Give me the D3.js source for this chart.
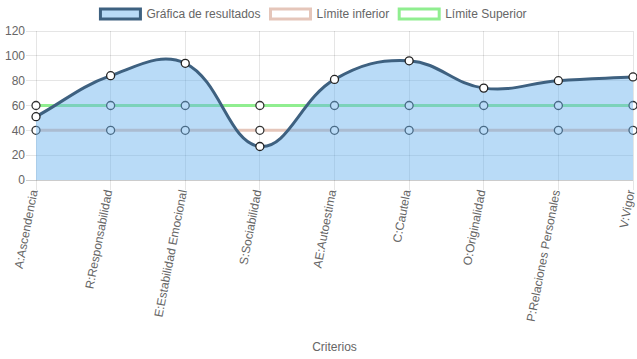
<!DOCTYPE html>
<html>
<head>
<meta charset="utf-8">
<script src="https://cdn.jsdelivr.net/npm/d3@7"></script>
<style>
  html, body { margin: 0; padding: 0; background: #fff; }
  svg { display: block; font-family: "Liberation Sans", Arial, Helvetica, sans-serif; }
</style>
</head>
<body>
<svg id="chart" width="637" height="359"></svg>
<script>
const categories = ["A:Ascendencia", "R:Responsabilidad", "E:Estabilidad Emocional", "S:Sociabilidad",
  "AE:Autoestima", "C:Cautela", "O:Originalidad", "P:Relaciones Personales", "V:Vigor"];
const resultados = [51, 84, 94, 27, 81, 96, 74, 80, 83];
const limiteInferior = [40, 40, 40, 40, 40, 40, 40, 40, 40];
const limiteSuperior = [60, 60, 60, 60, 60, 60, 60, 60, 60];
const yTicks = [0, 20, 40, 60, 80, 100, 120];
const legendLabels = ["Gráfica de resultados", "Límite inferior", "Límite Superior"];
const xTitle = "Criterios";

const W = 637, H = 359;
const area = { left: 36, right: 633, top: 31, bottom: 180 };
const svg = d3.select("#chart");

const x = d3.scalePoint().domain(categories).range([area.left, area.right]).padding(0);
const y = d3.scaleLinear().domain([0, 120]).range([area.bottom, area.top]);

const gridColor = "rgba(0,0,0,0.1)";
const tickColor = "#666";
const blueLine = "rgb(62,97,128)";
const blueFill = "rgba(100,175,238,0.45)";
const pink = "rgb(229,198,186)";
const green = "rgb(144,238,144)";

// grid (x)
const gx = svg.append("g");
categories.forEach(c => {
  gx.append("line").attr("x1", x(c)).attr("x2", x(c)).attr("y1", area.top).attr("y2", area.bottom + 10)
    .attr("stroke", gridColor).attr("stroke-width", 1).attr("shape-rendering", "crispEdges");
});
// grid (y)
yTicks.forEach(t => {
  gx.append("line").attr("x1", area.left - 10).attr("x2", area.right).attr("y1", y(t)).attr("y2", y(t))
    .attr("stroke", t === 0 ? "rgba(0,0,0,0.2)" : gridColor).attr("stroke-width", 1)
    .attr("shape-rendering", "crispEdges");
});

// y tick labels
svg.append("g").selectAll("text").data(yTicks).join("text")
  .attr("x", area.left - 11).attr("y", d => y(d)).attr("dy", "0.35em")
  .attr("text-anchor", "end").attr("font-size", 12).attr("fill", tickColor)
  .text(d => d);

// x tick labels (rotated)
svg.append("g").selectAll("text").data(categories).join("text")
  .attr("transform", d => `translate(${x(d) - 2},${area.bottom + 10}) rotate(-79)`)
  .attr("dy", "0.32em")
  .attr("text-anchor", "end").attr("font-size", 12).attr("fill", tickColor)
  .text(d => d);

// x axis title
svg.append("text").attr("x", (area.left + area.right) / 2).attr("y", 347).attr("dy", "0.35em")
  .attr("text-anchor", "middle").attr("font-size", 12).attr("fill", tickColor).text(xTitle);

// Chart.js-like spline
function splinePoints(pts, t) {
  return pts.map((p, i) => {
    const prev = pts[i - 1] || p, next = pts[i + 1] || p;
    const d01 = Math.hypot(p[0] - prev[0], p[1] - prev[1]);
    const d12 = Math.hypot(next[0] - p[0], next[1] - p[1]);
    let s01 = d01 / (d01 + d12), s12 = d12 / (d01 + d12);
    if (isNaN(s01)) s01 = 0; if (isNaN(s12)) s12 = 0;
    const fa = t * s01, fb = t * s12;
    const cp = [p[0] - fa * (next[0] - prev[0]), p[1] - fa * (next[1] - prev[1])];
    const cn = [p[0] + fb * (next[0] - prev[0]), p[1] + fb * (next[1] - prev[1])];
    cp[1] = Math.max(area.top, Math.min(area.bottom, cp[1]));
    cn[1] = Math.max(area.top, Math.min(area.bottom, cn[1]));
    return { p, cp, cn };
  });
}
function splinePath(values) {
  const pts = values.map((v, i) => [x(categories[i]), y(v)]);
  const sp = splinePoints(pts, 0.4);
  let d = `M${pts[0][0]},${pts[0][1]}`;
  for (let i = 1; i < sp.length; i++) {
    d += `C${sp[i - 1].cn[0]},${sp[i - 1].cn[1]} ${sp[i].cp[0]},${sp[i].cp[1]} ${sp[i].p[0]},${sp[i].p[1]}`;
  }
  return d;
}

function drawPoints(values, stroke) {
  svg.append("g").selectAll("circle").data(values).join("circle")
    .attr("cx", (d, i) => x(categories[i])).attr("cy", d => y(d)).attr("r", 4)
    .attr("fill", "#fff").attr("stroke", stroke).attr("stroke-width", 1.3);
}

// Superior (drawn first)
svg.append("path").attr("d", splinePath(limiteSuperior)).attr("fill", "none")
  .attr("stroke", green).attr("stroke-width", 3);
drawPoints(limiteSuperior, "#333");
// Inferior
svg.append("path").attr("d", splinePath(limiteInferior)).attr("fill", "none")
  .attr("stroke", pink).attr("stroke-width", 3);
drawPoints(limiteInferior, "#333");
// Resultados
const rp = splinePath(resultados);
svg.append("path")
  .attr("d", rp + `L${x(categories[categories.length - 1])},${y(0)}L${x(categories[0])},${y(0)}Z`)
  .attr("fill", blueFill).attr("stroke", "none");
svg.append("path").attr("d", rp).attr("fill", "none").attr("stroke", blueLine).attr("stroke-width", 3);
drawPoints(resultados, "#222");

// legend
const legendStyles = [
  { fill: "rgb(185,219,247)", stroke: blueLine },
  { fill: "#fff", stroke: pink },
  { fill: "#fff", stroke: green }
];
const lg = svg.append("g");
const items = legendLabels.map((lab, i) => {
  const g = lg.append("g");
  g.append("rect").attr("x", 0).attr("y", 9).attr("width", 40).attr("height", 10)
    .attr("fill", legendStyles[i].fill).attr("stroke", legendStyles[i].stroke).attr("stroke-width", 3);
  const t = g.append("text").attr("x", 46).attr("y", 14).attr("dy", "0.35em")
    .attr("font-size", 12).attr("fill", tickColor).text(lab);
  return { g, w: 46 + t.node().getComputedTextLength() + 10 };
});
const total = d3.sum(items, d => d.w);
let cx = (W - total) / 2;
items.forEach(it => { it.g.attr("transform", `translate(${cx},0)`); cx += it.w; });
</script>
</body>
</html>
